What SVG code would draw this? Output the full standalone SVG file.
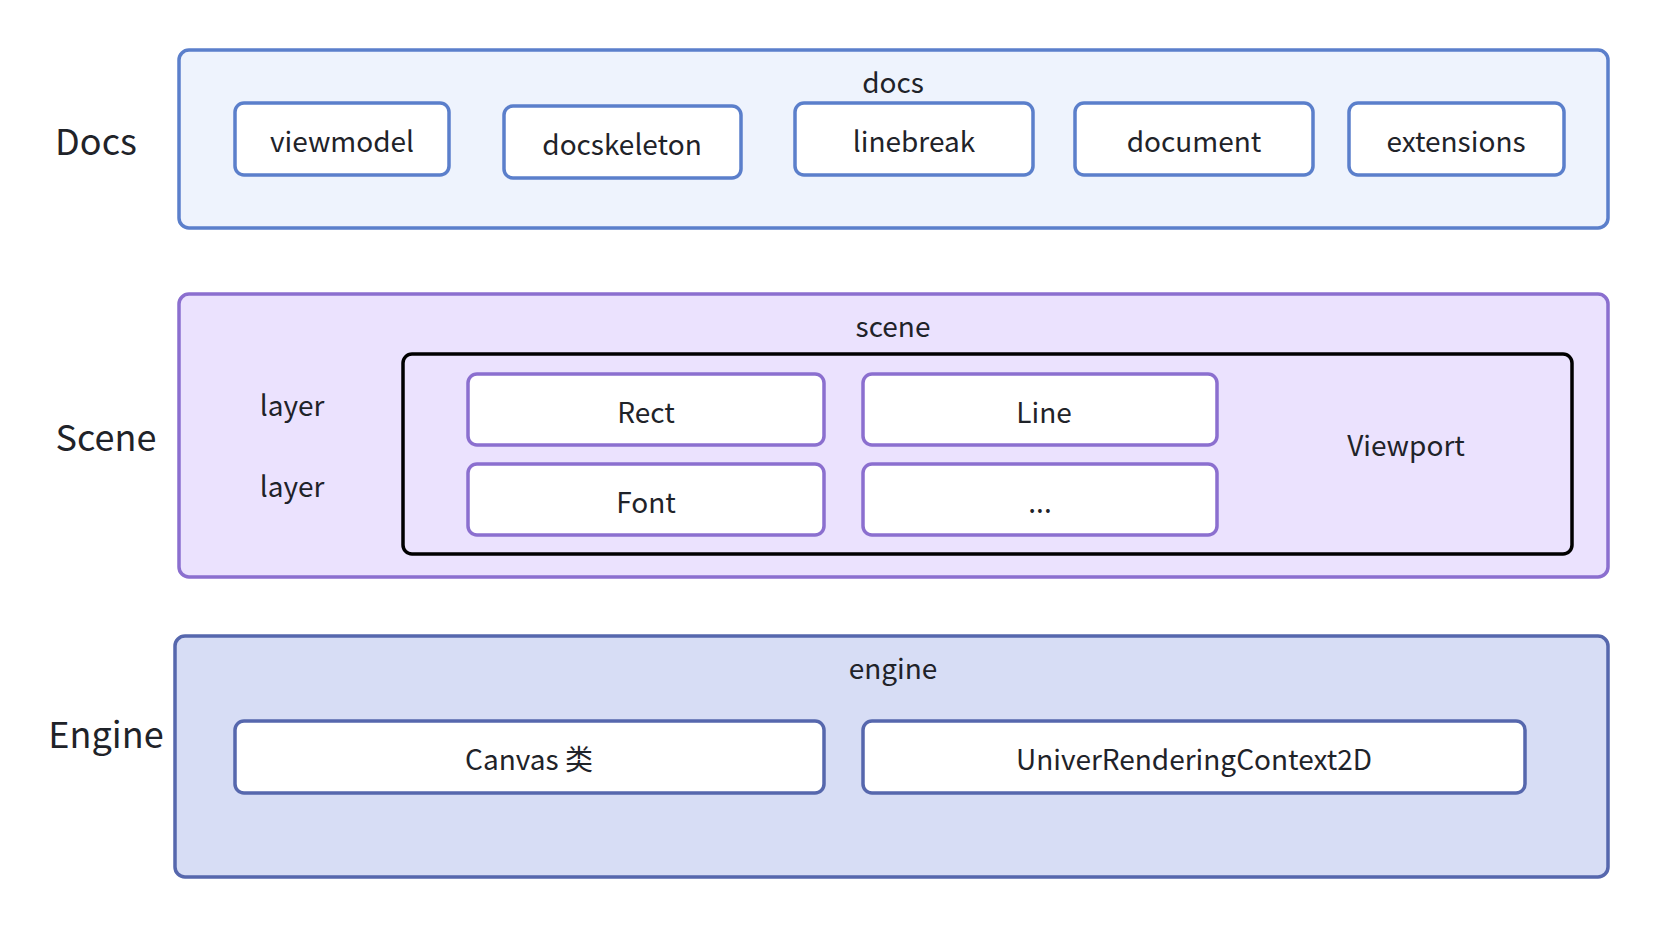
<svg xmlns="http://www.w3.org/2000/svg" width="1658" height="928" viewBox="0 0 1658 928">
<style>
text{font-family:"Noto Sans CJK SC","Noto Sans",sans-serif;fill:#1f2329;text-anchor:middle;dominant-baseline:central}
.lbl{font-size:28px}
.big{font-size:36px}
.docs-outer{fill:#eef3fd;stroke:#5b7fcb;stroke-width:3.5}
.docs-node{fill:#fff;stroke:#5b7fcb;stroke-width:3.5}
.scene-outer{fill:#ebe2fe;stroke:#8b6fcf;stroke-width:3.5}
.scene-node{fill:#fff;stroke:#8b6fcf;stroke-width:3.5}
.vp{fill:none;stroke:#000;stroke-width:3.5}
.eng-outer{fill:#d7ddf5;stroke:#5667ad;stroke-width:3.5}
.eng-node{fill:#fff;stroke:#5667ad;stroke-width:3.5}
</style>
<rect width="1658" height="928" fill="#fff"/>
<g id="docs-layer">
<text class="big" x="96" y="139">Docs</text>
<rect class="docs-outer" x="179" y="50" width="1429" height="178" rx="10"/>
<text class="lbl" x="893" y="81">docs</text>
</g>
<g id="viewmodel"><rect class="docs-node" x="235" y="103" width="214" height="72" rx="9"/><text class="lbl" x="342" y="140">viewmodel</text></g>
<g id="docskeleton"><rect class="docs-node" x="504" y="106" width="237" height="72" rx="9"/><text class="lbl" x="622" y="143">docskeleton</text></g>
<g id="linebreak"><rect class="docs-node" x="795" y="103" width="238" height="72" rx="9"/><text class="lbl" x="914" y="140">linebreak</text></g>
<g id="document"><rect class="docs-node" x="1075" y="103" width="238" height="72" rx="9"/><text class="lbl" x="1194" y="140">document</text></g>
<g id="extensions"><rect class="docs-node" x="1349" y="103" width="215" height="72" rx="9"/><text class="lbl" x="1456" y="140">extensions</text></g>

<g id="scene-layer">
<text class="big" x="106" y="435">Scene</text>
<rect class="scene-outer" x="179" y="294" width="1429" height="283" rx="10"/>
<text class="lbl" x="893" y="325">scene</text>
<text class="lbl" x="292" y="404">layer</text>
<text class="lbl" x="292" y="485">layer</text>
</g>
<g id="viewport">
<rect class="vp" x="403" y="354" width="1169" height="200" rx="9"/>
<text class="lbl" x="1406" y="444">Viewport</text>
</g>
<g id="rect"><rect class="scene-node" x="468" y="374" width="356" height="71" rx="9"/><text class="lbl" x="646" y="411">Rect</text></g>
<g id="line"><rect class="scene-node" x="863" y="374" width="354" height="71" rx="9"/><text class="lbl" x="1044" y="411">Line</text></g>
<g id="font"><rect class="scene-node" x="468" y="464" width="356" height="71" rx="9"/><text class="lbl" x="646" y="501">Font</text></g>
<g id="more"><rect class="scene-node" x="863" y="464" width="354" height="71" rx="9"/><text class="lbl" x="1040" y="501">...</text></g>

<g id="engine-layer">
<text class="big" x="106" y="732">Engine</text>
<rect class="eng-outer" x="175" y="636" width="1433" height="241" rx="10"/>
<text class="lbl" x="893" y="667">engine</text>
</g>
<g id="canvas"><rect class="eng-node" x="235" y="721" width="589" height="72" rx="9"/><text class="lbl" x="529" y="758">Canvas 类</text></g>
<g id="urc2d"><rect class="eng-node" x="863" y="721" width="662" height="72" rx="9"/><text class="lbl" x="1194" y="758">UniverRenderingContext2D</text></g>
<g id="connectors"></g>
</svg>
